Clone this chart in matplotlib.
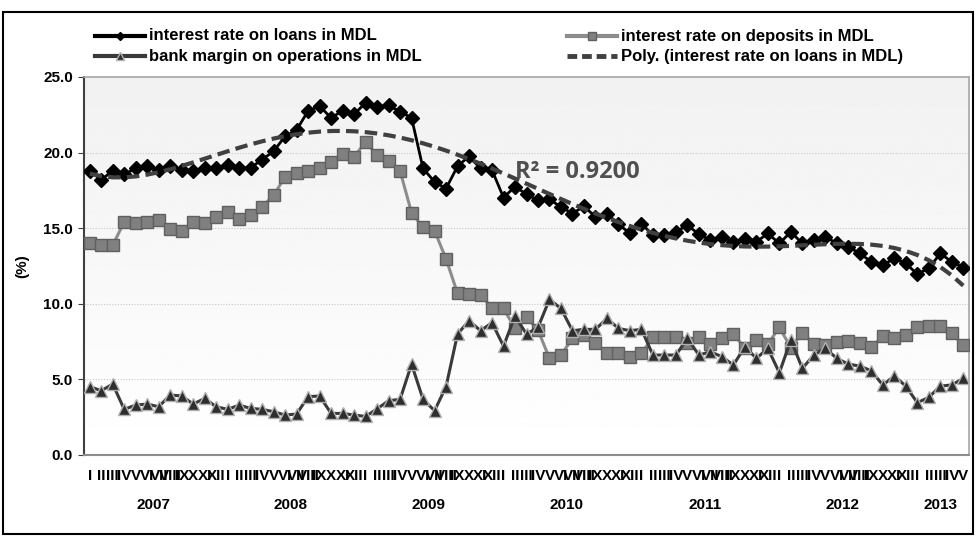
import numpy as np
import matplotlib
matplotlib.use("Agg")
import matplotlib.pyplot as plt
from matplotlib.patches import Rectangle
from matplotlib.lines import Line2D
from matplotlib.transforms import blended_transform_factory

plt.rcParams['font.family'] = ['Liberation Sans Narrow', 'Liberation Sans', 'DejaVu Sans']

# monthly data, Jan 2007 - May 2013
years = ['2007', '2008', '2009', '2010', '2011', '2012', '2013']
months_in_year = [12, 12, 12, 12, 12, 12, 5]
roman = ['I', 'II', 'III', 'IV', 'V', 'VI', 'VII', 'VIII', 'IX', 'X', 'XI', 'XII']

loans = [18.79, 18.2, 18.8, 18.57, 18.95, 19.1, 18.84, 19.1, 18.88, 18.8, 19.0, 18.95,
         19.17, 18.95, 19.0, 19.54, 20.09, 21.08, 21.5, 22.76, 23.07, 22.3, 22.76, 22.54,
         23.29, 23.0, 23.13, 22.7, 22.3, 18.95, 18.07, 17.62, 19.1, 19.76, 18.95, 18.84,
         17.03, 17.74, 17.25, 16.85, 16.9, 16.41, 15.97, 16.45, 15.75, 15.97, 15.27, 14.65,
         15.3, 14.54, 14.54, 14.76, 15.2, 14.6, 14.21, 14.43, 14.1, 14.26, 14.1, 14.65,
         13.99, 14.76, 13.99, 14.21, 14.39, 14.03, 13.77, 13.33, 12.78, 12.56, 13.0, 12.67,
         11.96, 12.34, 13.33, 12.78, 12.4]

deposits = [14.03, 13.88, 13.88, 15.42, 15.35, 15.42, 15.53, 14.98, 14.83, 15.42, 15.35, 15.71,
            16.08, 15.58, 15.86, 16.41, 17.18, 18.4, 18.66, 18.79, 18.95, 19.39, 19.94, 19.72,
            20.71, 19.83, 19.45, 18.79, 16.02, 15.05, 14.83, 12.97, 10.69, 10.62, 10.57, 9.75,
            9.69, 8.37, 9.1, 8.26, 6.39, 6.61, 7.71, 7.93, 7.38, 6.72, 6.76, 6.46,
            6.72, 7.78, 7.82, 7.82, 7.4, 7.78, 7.34, 7.71, 7.97, 7.1, 7.6, 7.34,
            8.44, 7.1, 8.08, 7.34, 7.27, 7.49, 7.56, 7.38, 7.12, 7.86, 7.71, 7.93,
            8.44, 8.53, 8.53, 8.04, 7.27]

margin = [4.52, 4.25, 4.69, 3.02, 3.3, 3.37, 3.19, 3.97, 3.9, 3.37, 3.74, 3.19,
          3.02, 3.3, 3.08, 3.02, 2.86, 2.64, 2.71, 3.86, 3.9, 2.75, 2.75, 2.64,
          2.55, 3.05, 3.59, 3.68, 6.01, 3.68, 2.93, 4.52, 8.0, 8.88, 8.22, 8.75,
          7.2, 9.19, 8.0, 8.44, 10.29, 9.69, 8.22, 8.31, 8.31, 9.03, 8.37, 8.22,
          8.31, 6.61, 6.61, 6.61, 7.71, 6.61, 6.83, 6.5, 5.95, 7.16, 6.39, 7.05,
          5.44, 7.6, 5.73, 6.61, 7.05, 6.39, 6.01, 5.88, 5.57, 4.63, 5.22, 4.56,
          3.46, 3.81, 4.56, 4.63, 5.07]

r2_text = 'R² = 0.9200'

month_labels = []
for n in months_in_year:
    month_labels += roman[:n]
x = np.arange(len(loans))

# polynomial trend of order 5 (Excel style, x = 1..n)
trend = np.polynomial.Polynomial.fit(x + 1, loans, 5)
trend_y = trend(x + 1)

W, H = 976, 536
fig = plt.figure(figsize=(W / 100, H / 100), dpi=100)
ax = fig.add_axes([84 / W, 1 - 455 / H, 885 / W, 378 / H])

# grey-to-white background of plot area
grad = np.linspace(0.945, 1.0, 256).reshape(-1, 1)
ax.imshow(grad, cmap='gray', vmin=0, vmax=1, aspect='auto',
          extent=[0, 1, 0, 1], transform=ax.transAxes, zorder=0)

ax.set_xlim(-0.5, len(loans) - 0.5)
ax.set_ylim(0, 25)
yt = [0, 5, 10, 15, 20, 25]
ax.set_yticks(yt)
ax.set_yticklabels(['%.1f' % v for v in yt], fontsize=11, fontweight='bold')
for v in [5, 10, 15, 20]:
    ax.axhline(v, color='#c8c8c8', lw=0.8, ls=(0, (1, 1.5)), zorder=1)

ax.plot(x, deposits, color='#8c8c8c', lw=2.2, marker='s', ms=8,
        mfc='#808080', mec='#606060', mew=1, zorder=3)
ax.plot(x, margin, color='#3a3a3a', lw=2.2, marker='^', ms=8.5,
        mfc='#2e2e2e', mec='#b0b0b0', mew=1, zorder=4)
ax.plot(x, loans, color='black', lw=2, marker='D', ms=7.5,
        mfc='black', mec='black', zorder=5)
ax.plot(x, trend_y, color='#404040', lw=3, ls=(0, (3, 1.5)), zorder=6)

ax.text(37.0, 18.75, r2_text, fontsize=17, fontweight='bold', color='#505050',
        family=['Open Sans', 'DejaVu Sans'], va='center', ha='left', zorder=7)

ax.set_xticks(x)
ax.set_xticklabels(month_labels, fontsize=11, fontweight='bold')
ax.tick_params(axis='x', length=0, pad=10)
ax.tick_params(axis='y', length=4, color='#404040', pad=4)

# year labels under the month labels
trans = blended_transform_factory(ax.transData, ax.transAxes)
start = 0
for yr, n in zip(years, months_in_year):
    ax.text(start + (n - 1) / 2, -0.132, yr, transform=trans, ha='center',
            va='center', fontsize=11, fontweight='bold')
    start += n

ax.set_ylabel('(%)', fontsize=11, fontweight='bold', labelpad=10)

for side in ['top', 'right']:
    ax.spines[side].set_color('#a6a6a6')
    ax.spines[side].set_linewidth(1.2)
ax.spines['bottom'].set_color('#8c8c8c')
ax.spines['bottom'].set_linewidth(1.5)
ax.spines['left'].set_color('#404040')
ax.spines['left'].set_linewidth(1.5)

# legend drawn by hand: two columns, two rows
names = ['interest rate on loans in MDL', 'interest rate on deposits in MDL',
         'bank margin on operations in MDL', 'Poly. (interest rate on loans in MDL)']
styles = [
    dict(color='black', lw=3, marker='D', ms=4.5, mfc='black', mec='black'),
    dict(color='#8c8c8c', lw=3, marker='s', ms=6, mfc='#808080', mec='#606060'),
    dict(color='#3a3a3a', lw=3, marker='^', ms=6, mfc='#2e2e2e', mec='#b0b0b0'),
    dict(color='#404040', lw=3.5, ls=(0, (2, 1))),
]
col_x = [95, 567]
row_y = [36, 56]
for k, (name, st) in enumerate(zip(names, styles)):
    cx = col_x[k % 2]
    cy = row_y[k // 2]
    xs = [cx / W, (cx + 50) / W]
    ys = [1 - cy / H, 1 - cy / H]
    if 'marker' in st:
        st = dict(st)
        fig.add_artist(Line2D(xs, ys, transform=fig.transFigure, color=st['color'], lw=st['lw']))
        fig.add_artist(Line2D([sum(xs) / 2], [ys[0]], transform=fig.transFigure, ls='none',
                              marker=st['marker'], ms=st['ms'], mfc=st['mfc'], mec=st['mec']))
    else:
        fig.add_artist(Line2D(xs, ys, transform=fig.transFigure, **st))
    fig.text((cx + 54) / W, 1 - cy / H, name, fontsize=12, fontweight='bold',
             va='center', ha='left')

# outer chart border
fig.patches.append(Rectangle((3 / W, 2 / H), 970 / W, 522 / H,
                             transform=fig.transFigure, fill=False,
                             edgecolor='black', lw=1.5))

fig.savefig('out.png', dpi=100)
